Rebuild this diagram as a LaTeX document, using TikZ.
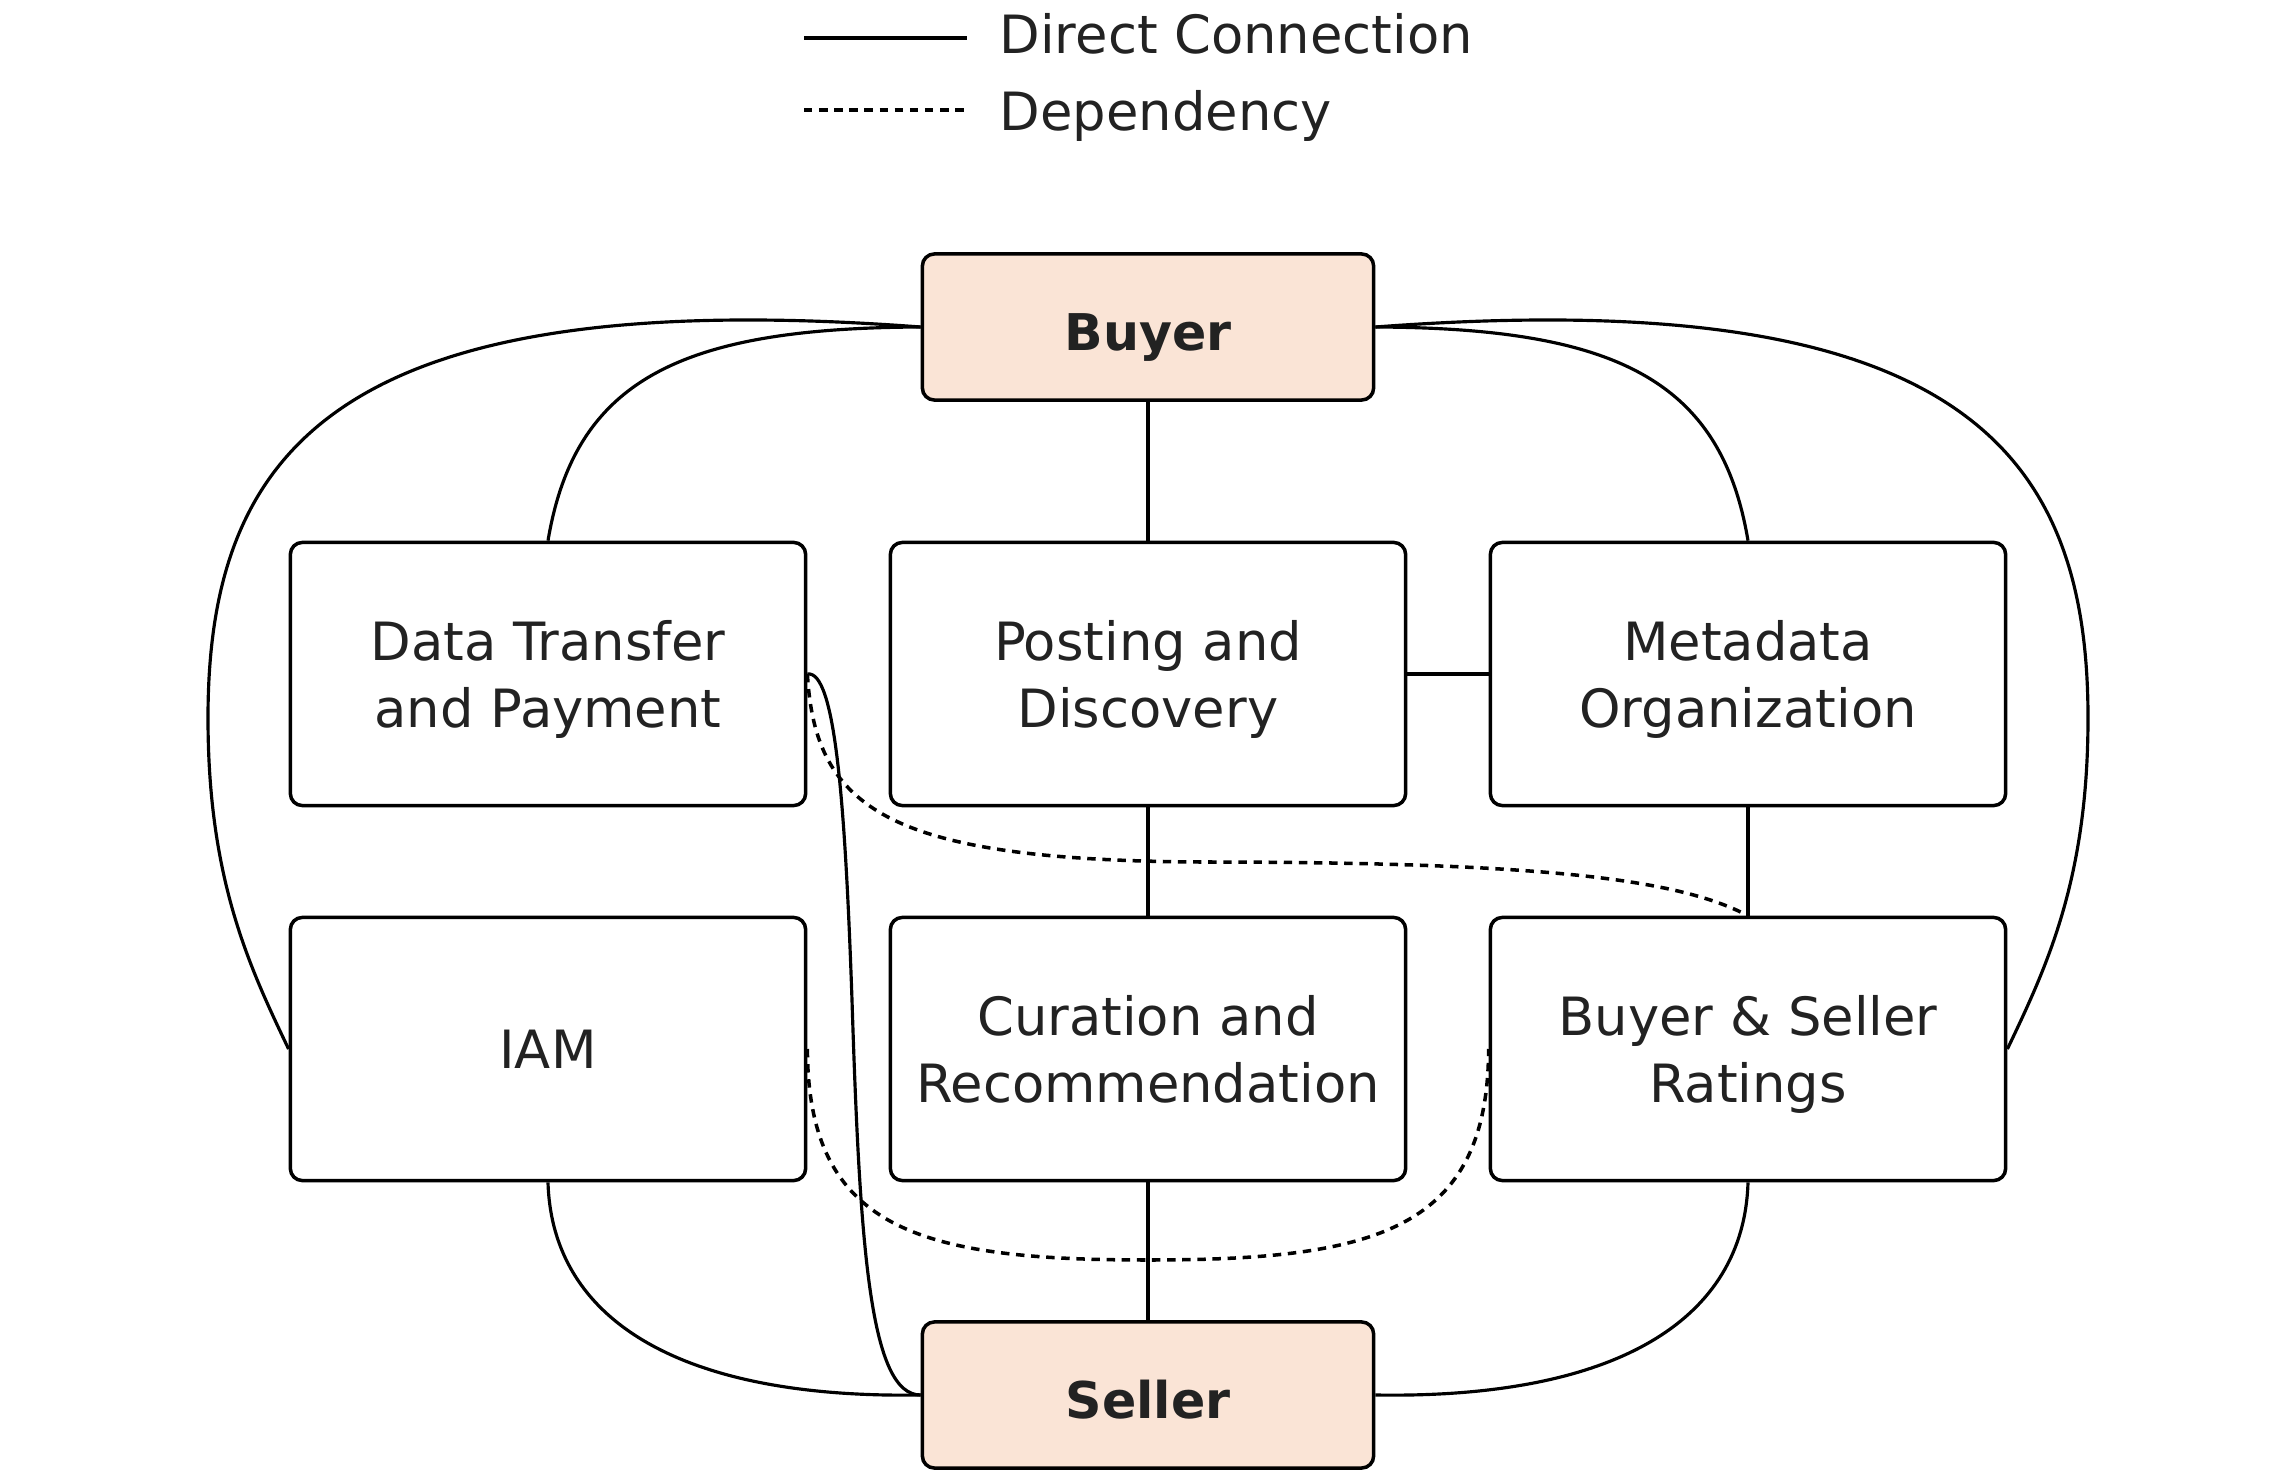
\documentclass[tikz,border=0pt]{standalone}
\usepackage{fontspec}
\setmainfont{DejaVu Sans}
\usepackage{xcolor}
\usepackage{tikz}
\definecolor{peachish}{HTML}{FAE4D6}
\definecolor{inkish}{HTML}{222222}

\begin{document}
\begin{tikzpicture}[
   x=0.01cm, y=-0.01cm,
   every node/.append style={align=center, text=inkish, font=\fontsize{15}{19}\selectfont},
   partbox/.style={draw, rounded corners=0.12cm, line width=1pt, fill=white, inner sep=0pt,
                   text depth=0pt, minimum width=5.15cm, minimum height=2.63cm},
   partybox/.style={partbox, fill=peachish, minimum width=4.51cm, minimum height=1.46cm,
                    text height=13.4pt, font=\fontsize{14.4}{19}\selectfont\bfseries},
   link/.style={line width=0.9pt},
   deplink/.style={line width=1pt, dash pattern=on 2.4pt off 1.9pt}
]
\useasboundingbox (0,0) rectangle (2296,1473);

% legend
\coordinate (solidA) at (804,38);
\coordinate (solidB) at (967,38);
\coordinate (dotA) at (804,110);
\coordinate (dotB) at (967,110);
\node[anchor=base west, inner sep=0pt] (legsolid) at (999,54) {Direct Connection};
\node[anchor=base west, inner sep=0pt] (legdep) at (999,131) {Dependency};
\draw[link] (solidA) -- (solidB);
\draw[deplink] (dotA) -- (dotB);

% buyer and seller
\node[partybox] (buyer) at (1148,327) {Buyer};
\node[partybox] (seller) at (1148,1395) {Seller};

% components
\node[partbox] (dtp) at (548,674) {Data Transfer\\and Payment};
\node[partbox] (post) at (1148,674) {Posting and\\Discovery};
\node[partbox] (meta) at (1748,674) {Metadata\\Organization};
\node[partbox] (iam) at (548,1049) {IAM};
\node[partbox] (cur) at (1148,1049) {Curation and\\Recommendation};
\node[partbox] (rate) at (1748,1049) {Buyer \& Seller\\Ratings};

% direct connections
\draw[link] (buyer.south) -- (post.north);
\draw[link] (post.east) -- (meta.west);
\draw[link] (post.south) -- (cur.north);
\draw[link] (cur.south) -- (seller.north);
\draw[link] (meta.south) -- (rate.north);
\draw[link] (buyer.west) .. controls (337,283) and (208,450) .. (208,718)
                         .. controls (208,879) and (249,966) .. (iam.west);
\draw[link] (buyer.east) .. controls (1959,283) and (2088,450) .. (2088,718)
                         .. controls (2088,879) and (2047,966) .. (rate.east);
\draw[link] (buyer.west) .. controls (680,328) and (575,380) .. (dtp.north);
\draw[link] (buyer.east) .. controls (1616,328) and (1721,380) .. (meta.north);
\draw[link] (iam.south) .. controls (552,1320) and (680,1399) .. (seller.west);
\draw[link] (rate.south) .. controls (1744,1320) and (1616,1399) .. (seller.east);
\draw[link] (dtp.east) .. controls (835,670) and (845,800) .. (852,1000)
                       .. controls (860,1250) and (870,1395) .. (seller.west);

% dependencies
\draw[deplink] (dtp.east) .. controls (815,810) and (890,860) .. (1200,862)
                          .. controls (1550,862) and (1680,880) .. (rate.north);
\draw[deplink] (iam.east) .. controls (808,1230) and (920,1260) .. (1148,1260)
                          .. controls (1376,1260) and (1488,1230) .. (rate.west);
\end{tikzpicture}
\end{document}
